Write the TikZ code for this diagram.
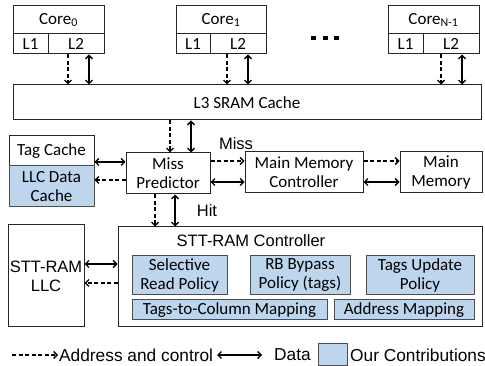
\documentclass[tikz,border=0pt]{standalone}
\usepackage{fontspec}
\setmainfont{Carlito}
\newfontfamily\arialfont{Liberation Sans}
\usepackage{tikz}
\usetikzlibrary{arrows.meta}
\usepackage{xcolor}
\definecolor{contrib}{RGB}{189,214,238}

\begin{document}
\begin{tikzpicture}[x=1pt,y=-1pt,
    box/.style={draw=black!85,line width=1pt,inner sep=0pt,align=center,
                font=\fontsize{17}{19}\selectfont},
    ourbox/.style={box,fill=contrib,draw=black!70},
    lbl/.style={inner sep=0pt,font=\arialfont\fontsize{16.5}{19}\selectfont},
    legend/.style={lbl,anchor=west,font=\arialfont\fontsize{17.3}{19}\selectfont},
    addr/.style={line width=1.4pt,dash pattern=on 4pt off 2.5pt,
                 -{Straight Barb[length=3.5pt,width=7pt,line width=1.4pt]}},
    data/.style={line width=1.4pt,
                 {Straight Barb[length=3.5pt,width=7pt,line width=1.4pt]}-{Straight Barb[length=3.5pt,width=7pt,line width=1.4pt]}}
    ]
    \useasboundingbox (0,0) rectangle (485,366);
    % cores
    \node[box,minimum width=91pt,minimum height=28pt] (c0)   at (58.5,20)  {Core\textsubscript{0}};
    \node[box,minimum width=35pt,minimum height=20pt] (c0l1) at (30.5,44)  {L1};
    \node[box,minimum width=56pt,minimum height=20pt] (c0l2) at (76,44)    {L2};
    \node[box,minimum width=90pt,minimum height=28pt] (c1)   at (221,20)   {Core\textsubscript{1}};
    \node[box,minimum width=34pt,minimum height=20pt] (c1l1) at (193,44)   {L1};
    \node[box,minimum width=56pt,minimum height=20pt] (c1l2) at (238,44)   {L2};
    \node[box,minimum width=91pt,minimum height=28pt] (cn)   at (433.5,20) {Core\textsubscript{N-1}};
    \node[box,minimum width=35pt,minimum height=20pt] (cnl1) at (405.5,44) {L1};
    \node[box,minimum width=56pt,minimum height=20pt] (cnl2) at (451,44)   {L2};
    \foreach \x in {313,325,336}
        \fill (\x-2,36) rectangle ++(4.5,4.5);
    % caches and memory
    \node[box,minimum width=468pt,minimum height=35pt] (l3) at (247,102.5) {L3 SRAM Cache};
    \node[box,minimum width=84pt,minimum height=41pt] (mp) at (168,173.5) {Miss\\Predictor};
    \node[box,minimum width=85pt,minimum height=30pt] (tag) at (51.5,151) {Tag Cache};
    \node[ourbox,minimum width=85pt,minimum height=41pt] (llcdata) at (51.5,186.5) {LLC Data\\Cache};
    \node[box,minimum width=118pt,minimum height=41pt] (mmc) at (304,172.5) {Main Memory\\Controller};
    \node[box,minimum width=82pt,minimum height=41pt] (mm) at (441,172.5) {Main\\Memory};
    % STT-RAM part
    \node[box,minimum width=364pt,minimum height=100pt] (ctrl) at (300,277) {};
    \node[lbl] (ctrltitle) at (251,241) {STT-RAM Controller};
    \node[box,minimum width=76pt,minimum height=102pt,font=\arialfont\fontsize{16.5}{19}\selectfont] (sttllc) at (46,276) {STT-RAM\\LLC};
    \node[ourbox,minimum width=95pt,minimum height=39pt] (sel) at (179.5,275.5) {Selective\\Read Policy};
    \node[ourbox,minimum width=100pt,minimum height=39pt] (rb) at (300,275.5) {RB Bypass\\Policy (tags)};
    \node[ourbox,minimum width=108pt,minimum height=39pt] (tu) at (420,275.5) {Tags Update\\Policy};
    \node[ourbox,minimum width=195pt,minimum height=20pt] (t2c) at (229.5,310) {Tags-to-Column Mapping};
    \node[ourbox,minimum width=140pt,minimum height=20pt] (am) at (404,310) {Address Mapping};
    % connectors
    \foreach \c/\d/\s in {c0l2/-8/13,c1l2/-11/10,cnl2/-10/11}{
        \draw[addr] ([xshift=\d pt]\c.south) -- ([xshift=\d pt]\c.south |- l3.north);
        \draw[data] ([xshift=\s pt]\c.south) -- ([xshift=\s pt]\c.south |- l3.north);
    }
    \draw[addr] ([xshift=2pt]mp.north |- l3.south) -- ([xshift=2pt]mp.north);
    \draw[data] ([xshift=23pt]mp.north |- l3.south) -- ([xshift=23pt]mp.north);
    \draw[data] ([yshift=11.5pt]mp.west) -- ([yshift=11.5pt]mp.west -| tag.east);
    \draw[addr] ([yshift=-6.5pt]mp.west) -- ([yshift=-6.5pt]mp.west -| llcdata.east);
    \draw[addr] ([yshift=12.5pt]mp.east) -- ([yshift=12.5pt]mp.east -| mmc.west);
    \draw[data] ([yshift=-8.5pt]mp.east) -- ([yshift=-8.5pt]mp.east -| mmc.west);
    \draw[addr] ([yshift=11.5pt]mmc.east) -- ([yshift=11.5pt]mmc.east -| mm.west);
    \draw[data] ([yshift=-9.5pt]mmc.east) -- ([yshift=-9.5pt]mmc.east -| mm.west);
    \draw[addr] ([xshift=-13pt]mp.south) -- ([xshift=-13pt]mp.south |- ctrl.north);
    \draw[data] ([xshift=7pt]mp.south) -- ([xshift=7pt]mp.south |- ctrl.north);
    \draw[data] ([yshift=13pt]ctrl.west) -- ([yshift=13pt]ctrl.west -| sttllc.east);
    \draw[addr] ([yshift=-6pt]ctrl.west) -- ([yshift=-6pt]ctrl.west -| sttllc.east);
    \node[lbl] (miss) at (236,144) {Miss};
    \node[lbl] (hit) at (207,211) {Hit};
    % legend
    \coordinate (lgaddra) at (12,355);
    \coordinate (lgaddrb) at (58,355);
    \draw[addr] (lgaddra) -- (lgaddrb);
    \node[legend] (lgaddr) at (59,355) {Address and control};
    \coordinate (lgdataa) at (217,355);
    \coordinate (lgdatab) at (262,355);
    \draw[data] (lgdataa) -- (lgdatab);
    \node[legend] (lgdata) at (274,355) {Data};
    \node[ourbox,minimum width=29pt,minimum height=22pt] (lgbox) at (332.5,354) {};
    \node[legend] (lgcontrib) at (350,355) {Our Contributions};
\end{tikzpicture}
\end{document}
